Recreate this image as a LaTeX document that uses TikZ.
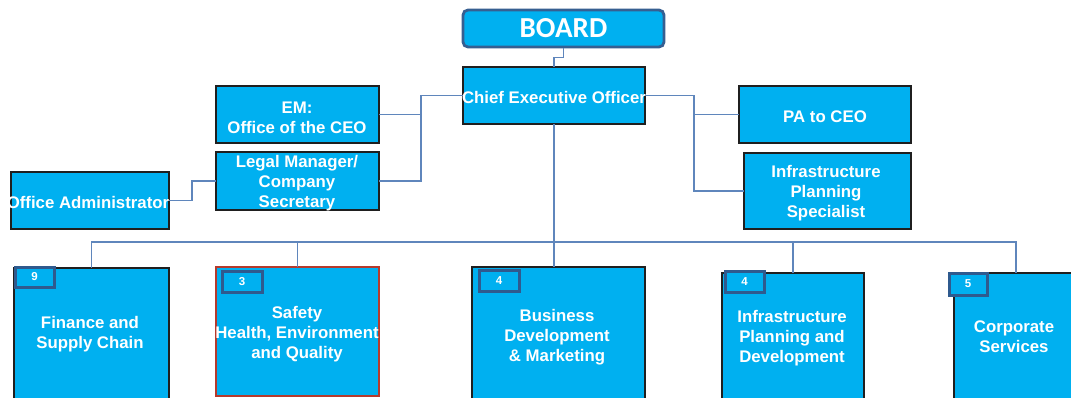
\documentclass[tikz,border=0pt]{standalone}
\usepackage{fontspec}
\setmainfont{Liberation Sans}
\newfontfamily\boardfont{Carlito}
\definecolor{cyanfill}{HTML}{00B0F0}
\definecolor{boxline}{HTML}{1F1F1F}
\definecolor{connblue}{HTML}{5F86BC}
\definecolor{badgeline}{HTML}{2F5A8E}
\definecolor{boardline}{HTML}{365F91}
\definecolor{safred}{HTML}{B63A2C}
\begin{document}
\begin{tikzpicture}[x=1pt,y=-1pt,
  box/.style={draw=boxline, line width=1.3pt, fill=cyanfill, inner sep=0pt, outer sep=0pt, anchor=north west},
  txt/.style={text=white, font=\bfseries\fontsize{16.8}{20}\selectfont, align=center, inner sep=0pt},
  badge/.style={draw=badgeline, line width=3pt, fill=cyanfill, text=white, font=\bfseries\fontsize{11.5}{12}\selectfont, inner sep=0pt, outer sep=0pt, anchor=north west},
  conn/.style={draw=connblue, line width=1.3pt}]
\path[use as bounding box, clip] (0,0) rectangle (1071,398);
\fill[white] (0,0) rectangle (1071,398);
% top nodes
\node[draw=boardline, line width=2.8pt, fill=cyanfill, rounded corners=5pt, minimum width=201pt, minimum height=37pt, inner sep=0pt, text=white, font=\boardfont\bfseries\fontsize{29}{30}\selectfont] (board) at (563.5,28.5) {BOARD};
\node[box, minimum width=182pt, minimum height=57pt] (ceo) at (463,67) {};
\node[box, minimum width=163pt, minimum height=57pt] (em) at (216,86) {};
\node[box, minimum width=163pt, minimum height=58pt] (legal) at (216,152) {};
\node[box, minimum width=158pt, minimum height=57pt] (oa) at (11,172) {};
\node[box, minimum width=172pt, minimum height=57pt] (pa) at (739,86) {};
\node[box, minimum width=167pt, minimum height=76pt] (ips) at (744,153) {};
% lower boxes
\node[box, minimum width=155pt, minimum height=150pt] (fin) at (14,268) {};
\node[box, draw=safred, minimum width=163pt, minimum height=129pt] (saf) at (216,267) {};
\node[box, minimum width=173pt, minimum height=150pt] (bd) at (472,267) {};
\node[box, minimum width=142pt, minimum height=150pt] (inf) at (722,273) {};
\node[box, minimum width=124pt, minimum height=150pt] (corp) at (954,273) {};
% badges
\node[badge, minimum width=39pt, minimum height=20pt] (b9) at (15,267) {9};
\node[badge, minimum width=40pt, minimum height=21pt] (b3) at (222,271) {3};
\node[badge, minimum width=40pt, minimum height=21pt] (b4a) at (479,270) {4};
\node[badge, minimum width=39pt, minimum height=21pt] (b4b) at (725,271) {4};
\node[badge, minimum width=38pt, minimum height=22pt] (b5) at (949,273) {5};
% texts
\node[txt] (tceo) at (554,97) {Chief Executive Officer};
\node[txt] (tem) at (297,117.5) {EM:\\Office of the CEO};
\node[txt] (tlegal) at (297,183.5) {Legal Manager/\\Company\\Secretary};
\node[txt] (toa) at (88,202.5) {Office Administrator};
\node[txt] (tpa) at (825,116.5) {PA to CEO};
\node[txt] (tips) at (826,193.5) {Infrastructure\\Planning\\Specialist};
\node[txt] (tfin) at (90,334) {Finance and\\Supply Chain};
\node[txt] (tsaf) at (297,334.5) {Safety\\Health, Environment\\and Quality};
\node[txt] (tbd) at (557,337.5) {Business\\Development\\\& Marketing};
\node[txt] (tinf) at (792,338.5) {Infrastructure\\Planning and\\Development};
\node[txt] (tcorp) at (1014,337) {Corporate\\Services};
% connectors
\coordinate (bus) at (554,242);
\draw[conn] (board.south) -- ++(0,9) -| (ceo.north);
\draw[conn] (ceo.west) -- ++(-42,0) coordinate (j1) |- (legal.east);
\draw[conn] (em.east) -- (em.east -| j1);
\draw[conn] (oa.east) -- ++(23,0) |- (legal.west);
\draw[conn] (ceo.east) -- ++(49,0) coordinate (j2) |- (pa.west);
\draw[conn] (j2) |- (ips.west);
\draw[conn] (ceo.south) -- (ceo.south |- bd.north);
\draw[conn] (fin.north) -- (fin.north |- bus) -| (corp.north);
\draw[conn] (saf.north) -- (saf.north |- bus);
\draw[conn] (inf.north) -- (inf.north |- bus);
\end{tikzpicture}
\end{document}
